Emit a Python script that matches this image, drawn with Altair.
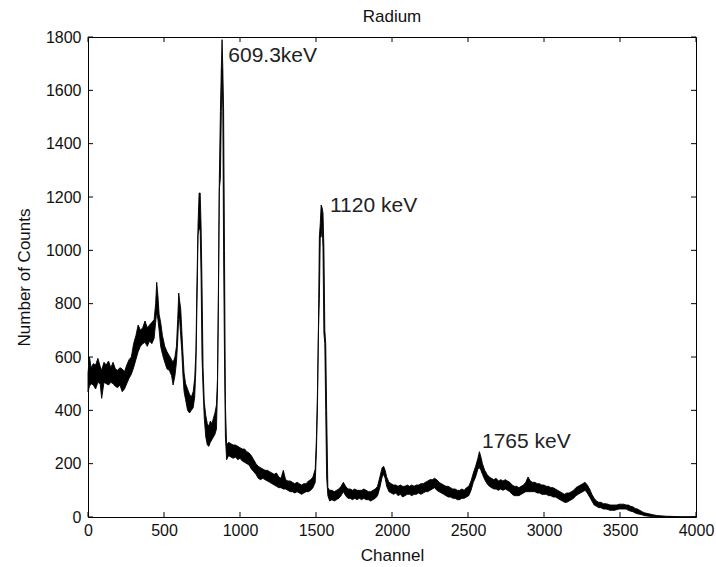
import altair as alt
import pandas as pd

# Spectrum: channel, lower and upper edge of the noisy trace
CHANNEL = [0, 10, 20, 35, 50, 65, 80, 90, 105, 120, 135, 150, 165, 180, 195, 210, 225, 240, 255,
           270, 285, 300, 315, 330, 345, 360, 375, 390, 405, 420, 435, 445, 452, 460, 468, 478, 490,
           505, 520, 535, 550, 560, 572, 582, 590, 597, 603, 610, 617, 624, 632, 642, 655, 668, 680,
           692, 702, 710, 717, 724, 731, 738, 744, 750, 757, 765, 775, 785, 795, 805, 815, 825, 835,
           845, 852, 858, 864, 871, 877, 882, 887, 892, 898, 904, 912, 925, 940, 955, 970, 985, 1000,
           1015, 1030, 1045, 1060, 1075, 1090, 1105, 1120, 1135, 1150, 1165, 1180, 1195, 1210, 1225,
           1240, 1255, 1270, 1285, 1300, 1315, 1330, 1345, 1360, 1375, 1390, 1405, 1420, 1435, 1450,
           1465, 1480, 1495, 1503, 1510, 1516, 1522, 1528, 1534, 1540, 1546, 1552, 1558, 1564, 1570,
           1578, 1590, 1605, 1620, 1635, 1650, 1665, 1680, 1695, 1710, 1725, 1740, 1755, 1770, 1785,
           1800, 1815, 1830, 1845, 1860, 1875, 1890, 1905, 1920, 1935, 1945, 1955, 1965, 1980, 1995,
           2010, 2025, 2040, 2055, 2070, 2085, 2100, 2115, 2130, 2145, 2160, 2175, 2190, 2205, 2220,
           2235, 2250, 2265, 2280, 2295, 2310, 2325, 2340, 2355, 2370, 2385, 2400, 2415, 2430, 2445,
           2460, 2475, 2490, 2505, 2520, 2535, 2550, 2565, 2575, 2585, 2595, 2610, 2625, 2640, 2655,
           2670, 2685, 2700, 2715, 2730, 2745, 2760, 2775, 2790, 2805, 2820, 2835, 2850, 2865, 2880,
           2895, 2910, 2925, 2940, 2955, 2970, 2985, 3000, 3015, 3030, 3045, 3060, 3075, 3090, 3105,
           3120, 3135, 3150, 3165, 3180, 3195, 3210, 3225, 3240, 3255, 3270, 3285, 3300, 3315, 3330,
           3345, 3360, 3375, 3390, 3405, 3420, 3435, 3450, 3465, 3480, 3495, 3510, 3525, 3540, 3555,
           3570, 3585, 3600, 3615, 3630, 3645, 3660, 3675, 3690, 3705, 3720, 3740, 3760, 3780, 3800,
           3850, 3900, 4000]
LOW = [470, 490, 500, 495, 480, 505, 500, 445, 505, 500, 495, 505, 500, 490, 485, 495, 470, 480, 500,
       520, 535, 560, 590, 620, 640, 650, 655, 640, 660, 650, 670, 730, 770, 740, 700, 640, 610,
       580, 555, 550, 530, 495, 530, 580, 660, 750, 740, 680, 620, 540, 470, 440, 400, 390, 400,
       410, 450, 560, 800, 1060, 1080, 1080, 900, 600, 480, 370, 300, 270, 265, 280, 290, 300, 310,
       330, 480, 800, 1230, 1270, 1520, 1680, 1530, 1000, 600, 300, 215, 230, 225, 220, 225, 215, 220,
       210, 205, 200, 195, 180, 170, 160, 145, 140, 145, 140, 135, 130, 125, 120,
       115, 110, 110, 105, 105, 100, 95, 95, 90, 95, 90, 85, 90, 95, 95,
       100, 110, 130, 250, 430, 690, 820, 1050, 1050, 1100, 1010, 690, 650, 400, 150,
       80, 60, 65, 60, 65, 70, 80, 95, 80, 70, 70, 65, 70, 65, 70,
       65, 70, 65, 65, 60, 65, 70, 80, 110, 150, 160, 145, 115, 95, 90,
       85, 90, 80, 85, 75, 80, 85, 85, 80, 85, 85, 90, 85, 90, 95,
       95, 100, 105, 110, 100, 95, 90, 85, 80, 75, 75, 70, 70, 65, 65,
       70, 70, 75, 80, 100, 130, 150, 180, 185, 175, 160, 140, 125, 115, 110,
       105, 105, 100, 105, 100, 105, 100, 95, 85, 80, 80, 80, 85, 90, 95,
       95, 95, 95, 95, 90, 90, 85, 85, 85, 80, 80, 75, 75, 70, 65,
       60, 55, 55, 60, 65, 70, 80, 85, 90, 95, 100, 90, 75, 60, 45,
       40, 35, 35, 30, 30, 28, 25, 25, 25, 28, 30, 30, 30, 30, 25,
       22, 20, 15, 12, 10, 8, 5, 4, 3, 2, 1, 0, 0, 0, 0,
       0, 0, 0]
HIGH = [540, 600, 560, 575, 570, 595, 565, 550, 580, 570, 585, 560, 580, 555, 550, 560, 555, 545, 570,
        590, 600, 650, 680, 720, 700, 710, 735, 710, 720, 730, 740, 800, 880, 830, 760, 730, 680,
        640, 620, 605, 590, 580, 600, 640, 740, 840, 810, 780, 700, 620, 540, 500, 480, 460, 450,
        470, 520, 620, 880, 1100, 1215, 1215, 1090, 870, 560, 430, 380, 350, 340, 360, 350, 370, 390,
        420, 520, 850, 1265, 1520, 1680, 1790, 1680, 1530, 1000, 420, 270, 280, 275, 270, 270, 265, 260,
        255, 255, 245, 240, 230, 215, 200, 190, 185, 180, 175, 175, 170, 165, 160,
        165, 150, 145, 175, 140, 135, 135, 130, 125, 130, 125, 120, 125, 125, 135,
        140, 150, 180, 300, 480, 710, 1050, 1100, 1170, 1160, 1140, 1010, 700, 650, 400,
        110, 100, 100, 95, 100, 105, 115, 130, 115, 105, 105, 100, 105, 100, 100,
        100, 105, 100, 95, 95, 100, 105, 115, 150, 185, 190, 175, 150, 130, 125,
        120, 120, 115, 120, 115, 115, 120, 115, 120, 115, 120, 120, 125, 125, 130,
        135, 140, 140, 145, 140, 130, 125, 120, 115, 115, 110, 105, 105, 100, 100,
        105, 100, 110, 115, 135, 165, 190, 220, 245, 225, 200, 175, 160, 150, 145,
        140, 145, 135, 140, 135, 140, 135, 130, 120, 115, 115, 110, 115, 120, 130,
        150, 135, 130, 130, 125, 125, 120, 120, 115, 115, 110, 110, 105, 100, 95,
        90, 85, 90, 90, 95, 100, 110, 115, 120, 125, 130, 120, 105, 85, 70,
        60, 55, 55, 50, 50, 48, 45, 45, 45, 45, 48, 48, 48, 45, 45,
        40, 38, 32, 30, 25, 20, 16, 14, 12, 10, 8, 6, 5, 4, 3,
        2, 1, 1]

X_TICKS = [0, 500, 1000, 1500, 2000, 2500, 3000, 3500, 4000]
Y_TICKS = [0, 200, 400, 600, 800, 1000, 1200, 1400, 1600, 1800]

PEAK_LABELS = ["609.3keV", "1120 keV", "1765 keV"]
PEAK_CHANNEL = [923, 1592, 2592]
PEAK_COUNT = [1706, 1144, 259]

spec = pd.DataFrame({"ch": CHANNEL, "lo": LOW, "hi": HIGH})
xt = pd.DataFrame({"v": X_TICKS})
yt = pd.DataFrame({"v": Y_TICKS})
ann = pd.DataFrame({"label": PEAK_LABELS, "ch": PEAK_CHANNEL, "cnt": PEAK_COUNT})

W, H = 608, 480
FONT = "Liberation Sans"

xscale = alt.Scale(domain=[0, 4000], nice=False, zero=False)
yscale = alt.Scale(domain=[0, 1800], nice=False)

xaxis = alt.Axis(values=X_TICKS, format="d", title="Channel", labelFlush=False,
                 labelOverlap=False, labelPadding=5, titlePadding=9)
yaxis = alt.Axis(values=Y_TICKS, format="d", title="Number of Counts", labelPadding=7,
                 titlePadding=12, labelOverlap=False)

trace = alt.Chart(spec).mark_area(color="black", stroke="black", strokeWidth=0.9, opacity=1).encode(
    x=alt.X("ch:Q", scale=xscale, axis=xaxis),
    y=alt.Y("hi:Q", scale=yscale, axis=yaxis),
    y2="lo:Q",
)

tick_b = alt.Chart(xt).mark_rule(color="black", strokeWidth=1).encode(
    x=alt.X("v:Q", scale=xscale), y=alt.value(H), y2=alt.value(H - 5))
tick_t = alt.Chart(xt).mark_rule(color="black", strokeWidth=1).encode(
    x=alt.X("v:Q", scale=xscale), y=alt.value(0), y2=alt.value(5))
tick_l = alt.Chart(yt).mark_rule(color="black", strokeWidth=1).encode(
    y=alt.Y("v:Q", scale=yscale), x=alt.value(0), x2=alt.value(5))
tick_r = alt.Chart(yt).mark_rule(color="black", strokeWidth=1).encode(
    y=alt.Y("v:Q", scale=yscale), x=alt.value(W), x2=alt.value(W - 5))

labels = alt.Chart(ann).mark_text(align="left", baseline="alphabetic", font=FONT,
                                  fontSize=21, color="#222").encode(
    x=alt.X("ch:Q", scale=xscale), y=alt.Y("cnt:Q", scale=yscale), text="label:N")

chart = alt.layer(trace, tick_b, tick_t, tick_l, tick_r, labels).properties(
    width=W, height=H,
    title=alt.TitleParams("Radium", font=FONT, fontSize=17, fontWeight="normal",
                          color="#111", offset=3),
    autosize=alt.AutoSizeParams(type="none"),
    padding={"left": 88, "top": 37, "right": 20, "bottom": 50},
    background="white",
).configure_view(stroke="black", strokeWidth=1).configure_axis(
    grid=False, ticks=False, domain=False,
    labelFont=FONT, labelFontSize=16, labelColor="#111",
    titleFont=FONT, titleFontSize=17, titleFontWeight="normal", titleColor="#111",
)

chart.save("out.html", embed_options={"renderer": "svg", "actions": False})
